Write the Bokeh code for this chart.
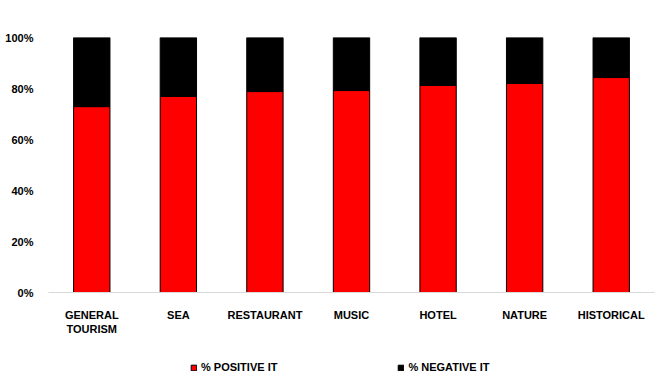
from bokeh.plotting import figure
from bokeh.models import ColumnDataSource, NumeralTickFormatter, Legend, LegendItem, FixedTicker
from bokeh.layouts import column
from bokeh.embed import file_html
from bokeh.resources import INLINE

categories = ["GENERAL\nTOURISM", "SEA", "RESTAURANT", "MUSIC", "HOTEL", "NATURE", "HISTORICAL"]
positive = [0.729, 0.769, 0.788, 0.792, 0.812, 0.820, 0.843]
negative = [round(1 - v, 3) for v in positive]
y_ticks = [0, 0.2, 0.4, 0.6, 0.8, 1.0]
series_names = ["% POSITIVE IT", "% NEGATIVE IT"]
series_colors = ["#ff0000", "#000000"]

source = ColumnDataSource(dict(cat=categories, pos=positive, neg=negative))

p = figure(x_range=categories, y_range=(0, 1), width=657, height=340,
           output_backend="svg", toolbar_location=None,
           min_border_left=48, min_border_right=3, min_border_top=37, min_border_bottom=48)
p.outline_line_color = None
p.grid.visible = False

r = p.vbar_stack(["pos", "neg"], x="cat", width=0.42, source=source,
                 fill_color=series_colors, line_color="#000000", line_width=1)

font = "Liberation Sans"
p.yaxis.ticker = FixedTicker(ticks=y_ticks)
p.yaxis.formatter = NumeralTickFormatter(format="0%")
p.yaxis.axis_line_color = None
p.yaxis.major_tick_line_color = None
p.yaxis.minor_tick_line_color = None
p.yaxis.major_label_text_font = font
p.yaxis.major_label_text_font_size = "11px"
p.yaxis.major_label_text_font_style = "bold"
p.yaxis.major_label_text_color = "#000000"
p.yaxis.major_label_standoff = 9

p.xaxis.axis_line_color = "#d9d9d9"
p.xaxis.axis_line_width = 1
p.xaxis.major_tick_line_color = None
p.xaxis.minor_tick_line_color = None
p.xaxis.major_label_text_font = font
p.xaxis.major_label_text_font_size = "11px"
p.xaxis.major_label_text_font_style = "bold"
p.xaxis.major_label_text_color = "#000000"
p.xaxis.major_label_standoff = 10

# legend strip below the chart
lg = figure(width=657, height=35, x_range=(0, 1), y_range=(0, 1),
            x_axis_type=None, y_axis_type=None,
            output_backend="svg", toolbar_location=None,
            min_border_left=0, min_border_right=0, min_border_top=0, min_border_bottom=0)
lg.outline_line_color = None
lg.grid.visible = False
lsrc = ColumnDataSource(dict(x=[0.5], top=[1.0]))  # hidden sample, only for legend swatches
items = []
for name, col in zip(series_names, series_colors):
    rr = lg.vbar(x="x", top="top", width=0.5, source=lsrc,
                 fill_color=col, line_color="#000000", line_width=1)
    rr.visible = False
    items.append(LegendItem(label=name, renderers=[rr]))

legend = Legend(items=items, orientation="horizontal", location=(142, 2),
                glyph_width=7, glyph_height=7, label_standoff=4, spacing=120,
                label_text_font=font, label_text_font_size="11px",
                label_text_font_style="bold", label_text_color="#000000",
                border_line_color=None, background_fill_alpha=0,
                inactive_fill_alpha=0,
                margin=0, padding=4)
lg.add_layout(legend, "center")

layout = column(p, lg, spacing=0)
open("out.html", "w").write(file_html(layout, INLINE))
